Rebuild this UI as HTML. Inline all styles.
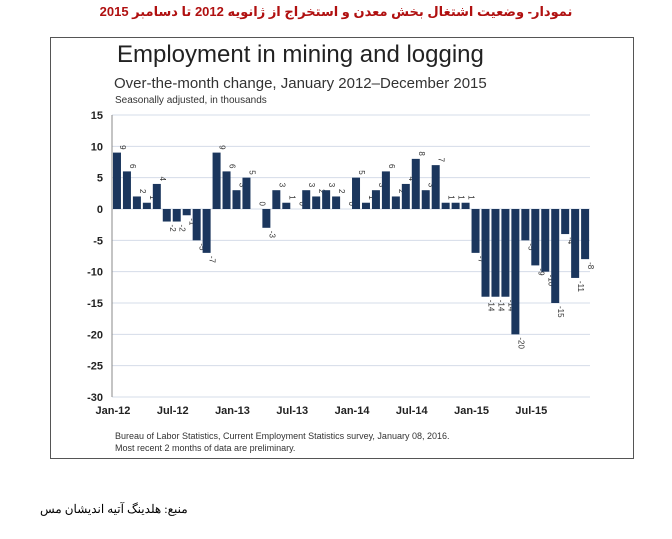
<!DOCTYPE html>
<html><head><meta charset="utf-8"><style>
body{margin:0;width:672px;height:539px;background:#fff;position:relative;overflow:hidden;font-family:"Liberation Sans",sans-serif}
.abs{position:absolute}
</style></head><body>
<div class="abs" style="left:0;width:672px;top:4px;text-align:center;color:#b01010;font-weight:bold;font-size:13px;direction:rtl;font-family:'Liberation Sans','Noto Sans CJK SC','DejaVu Sans',sans-serif">نمودار- وضعیت اشتغال بخش معدن و استخراج از ژانویه 2012 تا دسامبر 2015</div>
<div class="abs" style="left:50px;top:37px;width:582px;height:420px;border:1px solid #555"></div>
<div class="abs" style="left:117px;top:41px;font-size:24px;color:#222">Employment in mining and logging</div>
<div class="abs" style="left:114px;top:75px;font-size:15px;color:#333">Over-the-month change, January 2012–December 2015</div>
<div class="abs" style="left:115px;top:95px;font-size:10px;color:#333">Seasonally adjusted, in thousands</div>
<div class="abs" style="left:115px;top:430px;font-size:9px;color:#333;line-height:12px">Bureau of Labor Statistics, Current Employment Statistics survey, January 08, 2016.<br>Most recent 2 months of data are preliminary.</div>
<div class="abs" style="left:40px;top:502px;font-size:12px;direction:rtl;font-family:'Liberation Serif','DejaVu Serif',serif">منبع: هلدینگ آتیه اندیشان مس</div>
<svg class="abs" style="left:0;top:0" width="672" height="539" id="chart"></svg>
<script>
const values=[9,6,2,1,4,-2,-2,-1,-5,-7,9,6, 3,5,0,-3,3,1,0,3,2,3,2,0, 5,1,3,6,2,4,8,3,7,1,1,1, -7,-14,-14,-14,-20,-5,-9,-10,-15,-4,-11,-8];
const yTicks=[15,10,5,0,-5,-10,-15,-20,-25,-30];
const xLabels=["Jan-12","Jul-12","Jan-13","Jul-13","Jan-14","Jul-14","Jan-15","Jul-15"];
const svg=document.getElementById('chart');const NS='http://www.w3.org/2000/svg';
const y0=115,y1=397,vmax=15,vmin=-30,xl=112,step=9.96;
const Y=v=>y0+(vmax-v)/(vmax-vmin)*(y1-y0);
const X=i=>xl+step*(i+0.5);
function mk(t,a){const e=document.createElementNS(NS,t);for(const k in a)e.setAttribute(k,a[k]);svg.appendChild(e);return e;}
yTicks.forEach(t=>{
 const g=mk('line',{x1:xl,x2:590,y1:Y(t),y2:Y(t),stroke:'#d5dce8','stroke-width':1});
 
 
 const l=mk('text',{x:103,y:Y(t)+4,'text-anchor':'end','font-size':11,'font-weight':'bold','font-family':'Liberation Sans',fill:'#222'});l.textContent=t;
 
 
});
const ax=mk('line',{x1:xl,x2:xl,y1:y0,y2:y1,stroke:'#888'});


values.forEach((v,i)=>{
 const b=mk('rect',{x:X(i)-4,y:Math.min(Y(v),Y(0)),width:8,height:Math.abs(Y(v)-Y(0)),fill:'#1b365d'});
 
 
 const ly=v>=0?Y(v)-3:Y(v)+3;
 const t=mk('text',{x:0,y:0,'font-size':8,'font-family':'Liberation Sans',fill:'#333','text-anchor':v>=0?'end':'start',transform:`translate(${X(i)+3},${ly}) rotate(90)`});
 t.textContent=v;
 
 
});
xLabels.forEach((s,k)=>{
 const t=mk('text',{x:X(k*6)-4,y:414,'text-anchor':'middle','font-size':11,'font-weight':'bold','font-family':'Liberation Sans',fill:'#222'});t.textContent=s;
 
 
});
</script>
</body></html>
